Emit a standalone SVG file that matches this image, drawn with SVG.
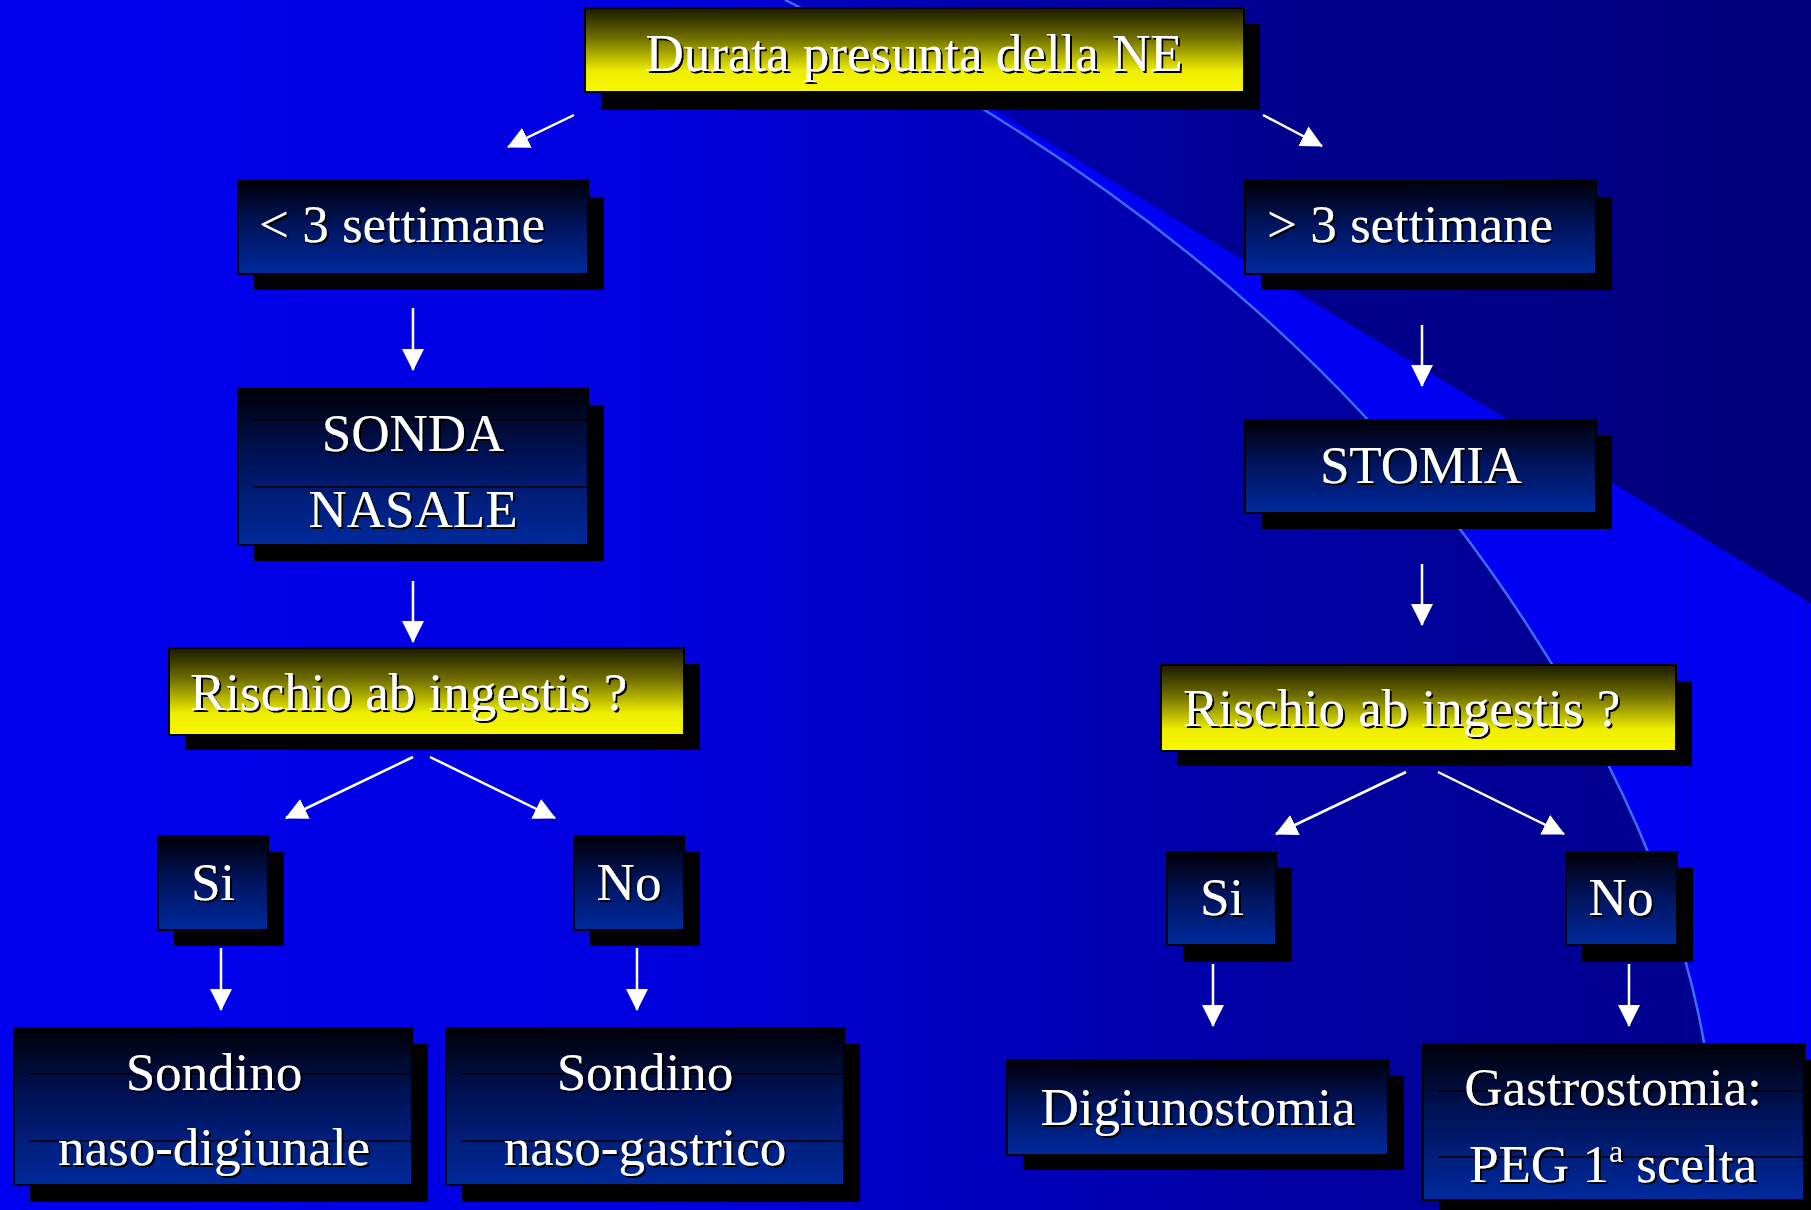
<svg xmlns="http://www.w3.org/2000/svg" width="1811" height="1210" viewBox="0 0 1811 1210">
<defs>
<linearGradient id="bgBase" gradientUnits="userSpaceOnUse" x1="0" y1="0" x2="1811" y2="0">
<stop offset="0" stop-color="#0000f0"/>
<stop offset="0.35" stop-color="#0000e0"/>
<stop offset="0.55" stop-color="#0000bc"/>
<stop offset="0.75" stop-color="#00009e"/>
<stop offset="1" stop-color="#00008a"/>
</linearGradient>
<linearGradient id="bgTop" gradientUnits="userSpaceOnUse" x1="780" y1="0" x2="1811" y2="0">
<stop offset="0" stop-color="#0000c4"/>
<stop offset="0.5" stop-color="#00008e"/>
<stop offset="1" stop-color="#00007a"/>
</linearGradient>
<linearGradient id="gBlue" x1="0" y1="0" x2="0" y2="1">
<stop offset="0" stop-color="#000008"/>
<stop offset="0.45" stop-color="#00135a"/>
<stop offset="1" stop-color="#002a9e"/>
</linearGradient>
<linearGradient id="gYellow" x1="0" y1="0" x2="0" y2="1">
<stop offset="0" stop-color="#1a1800"/>
<stop offset="0.35" stop-color="#6e6c00"/>
<stop offset="0.75" stop-color="#eeee00"/>
<stop offset="1" stop-color="#f8f800"/>
</linearGradient>
<filter id="ts" x="-5%" y="-20%" width="110%" height="140%">
<feDropShadow dx="2" dy="2" stdDeviation="0.4" flood-color="#000" flood-opacity="1"/>
</filter>
<marker id="ah" markerUnits="userSpaceOnUse" markerWidth="22" markerHeight="22" refX="21" refY="11" orient="auto">
<path d="M0,0 L22,11 L0,22 Z" fill="#ffffff"/>
</marker>
<style>
.sh{fill:#000}
.bb{fill:url(#gBlue);stroke:#000;stroke-width:2}
.yb{fill:url(#gYellow);stroke:#000;stroke-width:2}
.t{font-family:"Liberation Serif","Times New Roman",serif;font-size:53px;fill:#fff;filter:url(#ts)}
.c{text-anchor:middle}
.ln{stroke:#000;stroke-width:1.5}
.cn line{stroke:#fff;stroke-width:2.5;marker-end:url(#ah)}
</style>
</defs>

<g id="background">
<rect x="0" y="0" width="1811" height="1210" fill="url(#bgBase)"/>
<path d="M785,0 L813,0 L995,110 L1811,603 L1811,0 Z" fill="url(#bgTop)"/>
<path d="M785,0 Q1250,230 1490,570 T1715,1210 L1811,1210 L1811,603 L995,110 Z" fill="#0000f2"/>
<path d="M785,0 L813,0 L995,110 Q1000,113 1003,115 Z" fill="url(#bgTop)"/>
<line x1="1686" y1="527" x2="1686" y2="1210" stroke="#0000a8" stroke-width="1"/>
<line x1="1806" y1="600" x2="1806" y2="1210" stroke="#0000a8" stroke-width="1"/>
<path d="M785,0 Q1250,230 1490,570 T1715,1210" fill="none" stroke="#3a6cff" stroke-width="2.5"/>
</g>

<g id="connectors" class="cn">
<line x1="574" y1="115" x2="508" y2="147"/>
<line x1="1263" y1="115" x2="1322" y2="146"/>
<line x1="413" y1="308" x2="413" y2="370"/>
<line x1="413" y1="581" x2="413" y2="642"/>
<line x1="1422" y1="325" x2="1422" y2="386"/>
<line x1="1422" y1="564" x2="1422" y2="625"/>
<line x1="413" y1="757" x2="286" y2="818"/>
<line x1="430" y1="757" x2="555" y2="818"/>
<line x1="221" y1="948" x2="221" y2="1010"/>
<line x1="637" y1="948" x2="637" y2="1010"/>
<line x1="1406" y1="772" x2="1276" y2="834"/>
<line x1="1438" y1="772" x2="1564" y2="834"/>
<line x1="1213" y1="964" x2="1213" y2="1026"/>
<line x1="1629" y1="964" x2="1629" y2="1026"/>
</g>

<g id="n-durata">
<rect class="sh" x="601" y="24" width="659" height="86"/>
<rect class="yb" x="585" y="8" width="659" height="84"/>
<text class="t c" x="914" y="71">Durata presunta della NE</text>
</g>

<g id="n-meno3">
<rect class="sh" x="254" y="197" width="350" height="93"/>
<rect class="bb" x="238" y="181" width="350" height="93"/>
<text class="t" x="259" y="242">&lt; 3 settimane</text>
</g>

<g id="n-piu3">
<rect class="sh" x="1261" y="197" width="351" height="93"/>
<rect class="bb" x="1245" y="181" width="351" height="93"/>
<text class="t" x="1267" y="242">&gt; 3 settimane</text>
</g>

<g id="n-sonda">
<rect class="sh" x="254" y="405" width="350" height="156"/>
<rect class="bb" x="238" y="389" width="350" height="156"/>
<line class="ln" x1="253" y1="420" x2="587" y2="420"/>
<line class="ln" x1="253" y1="487" x2="587" y2="487"/>
<text class="t c" x="413" y="451">SONDA</text>
<text class="t c" x="413" y="527">NASALE</text>
</g>

<g id="n-stomia">
<rect class="sh" x="1261" y="436" width="351" height="93"/>
<rect class="bb" x="1245" y="420" width="351" height="93"/>
<text class="t c" x="1421" y="483">STOMIA</text>
</g>

<g id="n-rischio-sx">
<rect class="sh" x="185" y="664" width="515" height="86"/>
<rect class="yb" x="169" y="648" width="515" height="87"/>
<text class="t" x="190" y="710">Rischio ab ingestis ?</text>
</g>

<g id="n-rischio-dx">
<rect class="sh" x="1177" y="681" width="515" height="85"/>
<rect class="yb" x="1161" y="665" width="515" height="86"/>
<text class="t" x="1183" y="726">Rischio ab ingestis ?</text>
</g>

<g id="n-si-sx">
<rect class="sh" x="174" y="852" width="110" height="94"/>
<rect class="bb" x="158" y="836" width="110" height="94"/>
<text class="t c" x="213" y="900">Si</text>
</g>

<g id="n-no-sx">
<rect class="sh" x="590" y="852" width="110" height="94"/>
<rect class="bb" x="574" y="836" width="110" height="94"/>
<text class="t c" x="629" y="900">No</text>
</g>

<g id="n-si-dx">
<rect class="sh" x="1183" y="868" width="109" height="94"/>
<rect class="bb" x="1167" y="852" width="109" height="93"/>
<text class="t c" x="1222" y="915">Si</text>
</g>

<g id="n-no-dx">
<rect class="sh" x="1582" y="868" width="111" height="94"/>
<rect class="bb" x="1566" y="852" width="111" height="93"/>
<text class="t c" x="1621" y="915">No</text>
</g>

<g id="n-sondino-digiunale">
<rect class="sh" x="30" y="1044" width="398" height="158"/>
<rect class="bb" x="14" y="1028" width="398" height="157"/>
<line class="ln" x1="29" y1="1074" x2="411" y2="1074"/>
<line class="ln" x1="29" y1="1141" x2="411" y2="1141"/>
<text class="t c" x="214" y="1090">Sondino</text>
<text class="t c" x="214" y="1165">naso-digiunale</text>
</g>

<g id="n-sondino-gastrico">
<rect class="sh" x="462" y="1044" width="398" height="158"/>
<rect class="bb" x="446" y="1028" width="398" height="157"/>
<line class="ln" x1="461" y1="1074" x2="843" y2="1074"/>
<line class="ln" x1="461" y1="1141" x2="843" y2="1141"/>
<text class="t c" x="645" y="1090">Sondino</text>
<text class="t c" x="645" y="1165">naso-gastrico</text>
</g>

<g id="n-digiunostomia">
<rect class="sh" x="1023" y="1076" width="381" height="94"/>
<rect class="bb" x="1007" y="1060" width="381" height="95"/>
<text class="t c" x="1198" y="1125">Digiunostomia</text>
</g>

<g id="n-gastrostomia">
<rect class="sh" x="1439" y="1060" width="381" height="160"/>
<rect class="bb" x="1423" y="1044" width="381" height="156"/>
<line class="ln" x1="1438" y1="1091" x2="1803" y2="1091"/>
<line class="ln" x1="1438" y1="1157" x2="1803" y2="1157"/>
<text class="t c" x="1613" y="1105">Gastrostomia:</text>
<text class="t c" x="1613" y="1182">PEG 1<tspan font-size="32" dy="-20">a</tspan><tspan dy="20"> scelta</tspan></text>
</g>
</svg>
